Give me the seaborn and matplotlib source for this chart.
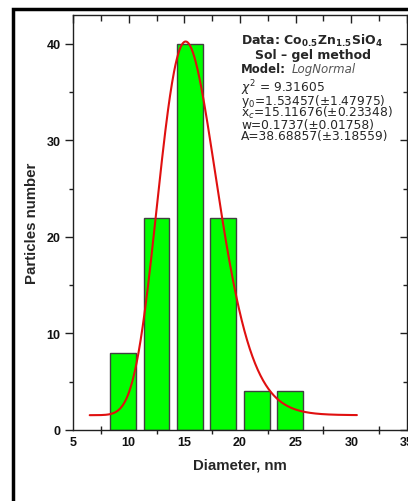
import numpy as np
import pandas as pd
import matplotlib
matplotlib.use("Agg")
import matplotlib.pyplot as plt
from matplotlib.patches import Rectangle
from matplotlib.ticker import MultipleLocator
import seaborn as sns

# Histogram of particle diameters
bin_centers = [9.5, 12.5, 15.5, 18.5, 21.5, 24.5]
counts = [8, 22, 40, 22, 4, 4]

# Log-normal fit parameters
y0 = 1.53457
xc = 15.11676
w = 0.1737
A = 38.68857
fit_range = [6.5, 30.5]

sns.set_theme(style="white")
plt.rcParams["font.family"] = ["Liberation Sans", "DejaVu Sans"]
plt.rcParams["mathtext.fontset"] = "dejavusans"

fig = plt.figure(figsize=(4.08, 5.02), dpi=100)
ax = fig.add_axes([73 / 408, 1 - 431 / 502, 334 / 408, (431 - 15.7) / 502])

hist = pd.DataFrame({"diameter": bin_centers, "count": counts})
sns.barplot(data=hist, x="diameter", y="count", native_scale=True, width=0.77,
            color="#00ff00", saturation=1, edgecolor="#404040", linewidth=1.0, ax=ax)

xs = np.linspace(fit_range[0], fit_range[1], 400)
ys = y0 + A * np.exp(-np.log(xs / xc) ** 2 / (2 * w ** 2))
sns.lineplot(x=xs, y=ys, color="#e01010", linewidth=1.5, ax=ax)

ax.set_xlim(5, 35)
ax.set_ylim(0, 43)
ax.xaxis.set_major_locator(MultipleLocator(5))
ax.xaxis.set_minor_locator(MultipleLocator(2.5))
ax.yaxis.set_major_locator(MultipleLocator(10))
ax.yaxis.set_minor_locator(MultipleLocator(5))

for s in ax.spines.values():
    s.set_visible(True)
    s.set_color("#202020")
    s.set_linewidth(1.0)

ax.tick_params(axis="both", which="both", colors="#202020", width=1.0,
               top=False, right=False)
ax.tick_params(axis="x", which="major", bottom=False, length=0, pad=4,
               labelsize=9)
ax.tick_params(axis="x", which="minor", bottom=True, direction="inout", length=6)
ax.tick_params(axis="y", which="major", left=True, direction="out",
               length=6, pad=3, labelsize=9)
ax.tick_params(axis="y", which="minor", left=True, direction="out", length=3)
for lab in ax.get_xticklabels() + ax.get_yticklabels():
    lab.set_fontweight("bold")
    lab.set_color("#111111")

# Inward ticks on the top and right edges
top = ax.secondary_xaxis("top")
top.xaxis.set_major_locator(MultipleLocator(5))
top.xaxis.set_minor_locator(MultipleLocator(2.5))
top.tick_params(which="major", direction="in", length=6, width=1.0,
                colors="#202020", labeltop=False)
top.tick_params(which="minor", direction="in", length=4, width=1.0,
                colors="#202020")
right = ax.secondary_yaxis("right")
right.yaxis.set_major_locator(MultipleLocator(10))
right.yaxis.set_minor_locator(MultipleLocator(5))
right.tick_params(which="major", direction="in", length=5, width=1.0,
                  colors="#202020", labelright=False)
right.tick_params(which="minor", direction="in", length=3, width=1.0,
                  colors="#202020")
for sec in (top, right):
    for s in sec.spines.values():
        s.set_visible(False)

ax.set_xlabel("Diameter, nm", fontsize=10.8, fontweight="bold", labelpad=7)
ax.set_ylabel("Particles number", fontsize=10.8, fontweight="bold", labelpad=5)

# Fit summary
tx = 241 / 408
def fy(py):
    return 1 - py / 502
info_font = ["DejaVu Sans"]
fig.text(tx, fy(40.7), r"Data: $\mathbf{Co_{0.5}Zn_{1.5}SiO_4}$", fontsize=9,
         fontweight="bold", family=info_font, va="center")
fig.text(255 / 408, fy(55), "Sol \u2013 gel method", fontsize=9,
         fontweight="bold", family=info_font, va="center")
fig.text(tx, fy(69.3), "Model:", fontsize=8.5, fontweight="bold",
         family=info_font, va="center")
fig.text(292 / 408, fy(69.3), "LogNormal", fontsize=8.5, style="italic",
         color="#555555", family=info_font, va="center")
params = [r"$\chi^2$ = 9.31605",
          r"y$_0$=1.53457(±1.47975)",
          r"x$_c$=15.11676(±0.23348)",
          "w=0.1737(±0.01758)",
          "A=38.68857(±3.18559)"]
for py, t in zip([87.7, 101.7, 113.3, 125, 136.7], params):
    fig.text(tx, fy(py), t, fontsize=8.8, family=info_font, va="center")

# Page frame
fig.patches.append(Rectangle((12.5 / 408, -0.05), 1.0, 1 - 9.5 / 502 + 0.05,
                             transform=fig.transFigure, fill=False,
                             edgecolor="black", linewidth=2.5, clip_on=False))

fig.savefig("out.png", dpi=100)
